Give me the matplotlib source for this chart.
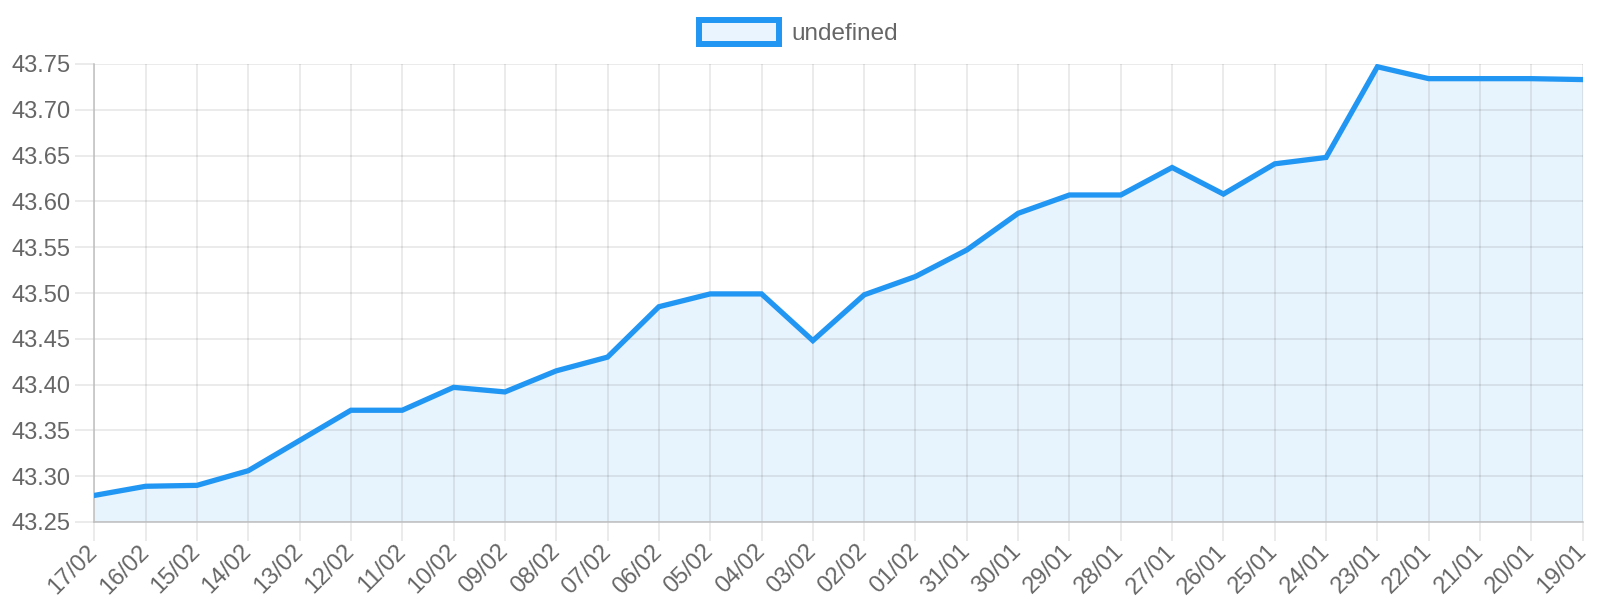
import matplotlib.pyplot as plt
from matplotlib.patches import Rectangle

# data
dates = ["17/02", "16/02", "15/02", "14/02", "13/02", "12/02", "11/02", "10/02",
         "09/02", "08/02", "07/02", "06/02", "05/02", "04/02", "03/02", "02/02",
         "01/02", "31/01", "30/01", "29/01", "28/01", "27/01", "26/01", "25/01",
         "24/01", "23/01", "22/01", "21/01", "20/01", "19/01"]
values = [43.279, 43.289, 43.290, 43.306, 43.339, 43.372, 43.372, 43.397,
          43.392, 43.415, 43.430, 43.485, 43.499, 43.499, 43.448, 43.498,
          43.518, 43.547, 43.587, 43.607, 43.607, 43.637, 43.608, 43.641,
          43.648, 43.747, 43.734, 43.734, 43.734, 43.733]
yticks = [43.25, 43.30, 43.35, 43.40, 43.45, 43.50, 43.55, 43.60, 43.65, 43.70, 43.75]
series_name = "undefined"

blue = "#2196F3"

plt.rcParams['font.family'] = ['Liberation Sans', 'DejaVu Sans']

fig = plt.figure(figsize=(16, 6), dpi=100)
ax = fig.add_axes([94.3 / 1600, 78 / 600, 1488.4 / 1600, 458 / 600])

x = list(range(len(dates)))
ax.fill_between(x, values, yticks[0], color=blue, alpha=0.1, lw=0, zorder=1)
ax.plot(x, values, color=blue, lw=3.8, zorder=4, solid_joinstyle='miter')

ax.set_xlim(0, len(dates) - 1)
ax.set_ylim(yticks[0], yticks[-1])
ax.set_yticks(yticks)
ax.set_yticklabels([f"{v:.2f}" for v in yticks])
ax.set_xticks(x)
ax.set_xticklabels(dates, rotation=45, ha='right', va='center', rotation_mode='anchor')

ax.set_axisbelow(False)
ax.grid(True, color='black', alpha=0.1, lw=1.1, zorder=2)
for gl in ax.get_xgridlines() + ax.get_ygridlines():
    gl.set_zorder(2)
ax.tick_params(length=14, width=1.1, color='#e6e6e6', labelcolor='#666', labelsize=17, pad=3)
ax.tick_params(axis='x', pad=5)
for s in ['top', 'right']:
    ax.spines[s].set_visible(False)
for s in ['left', 'bottom']:
    ax.spines[s].set_color('#bfbfbf')
    ax.spines[s].set_linewidth(1.1)
    ax.spines[s].set_zorder(3)

# legend drawn like the chart.js one
fig.patches.append(Rectangle((699 / 1600, 1 - 44 / 600), 80 / 1600, 24 / 600,
                             transform=fig.transFigure, facecolor='#E9F4FE',
                             edgecolor=blue, lw=4.3))
fig.text(791 / 1600, 1 - 34.5 / 600, series_name, color='#666', fontsize=17.5,
         va='center', ha='left')

fig.savefig('out.png', dpi=100)
